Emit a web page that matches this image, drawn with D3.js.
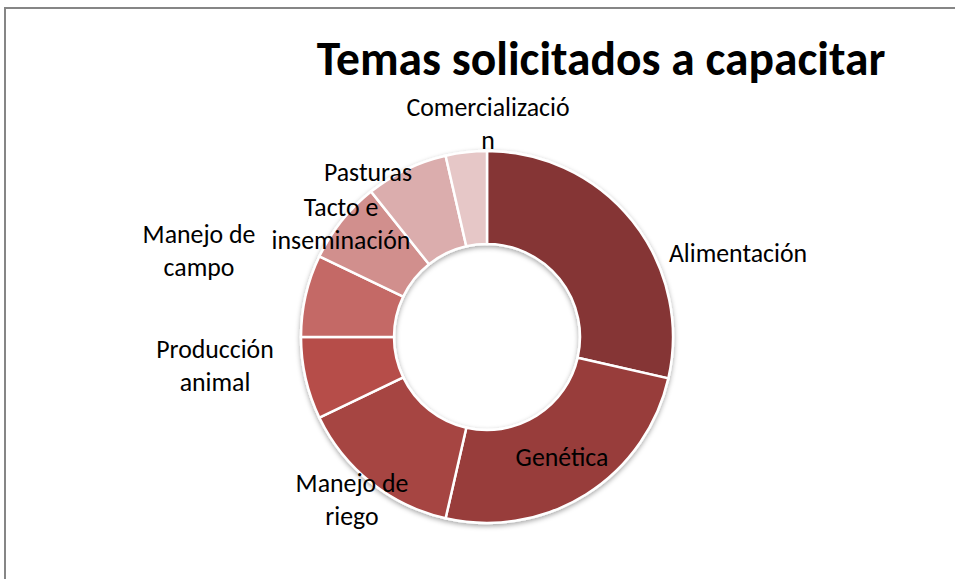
<!DOCTYPE html>
<html>
<head>
<meta charset="utf-8">
<script src="https://cdn.jsdelivr.net/npm/d3@7"></script>
<style>
  body { margin: 0; background: #fff; }
  svg text { font-family: Calibri, Carlito, Lato, "Open Sans", sans-serif; fill: #000; }
</style>
</head>
<body>
<div id="chart"></div>
<script>
// data
const temas = ["Alimentación", "Genética", "Manejo de riego", "Producción animal",
               "Manejo de campo", "Tacto e inseminación", "Pasturas", "Comercialización"];
const cantidades = [8, 7, 4, 2, 2, 2, 2, 1];
const colores = ["#853434", "#983c3b", "#a64543", "#b64d4a", "#c46966", "#d18f8d", "#dbadad", "#e6c7c7"];

// label lines as excel wrapped them
const etiquetas = [["Alimentación"], ["Genética"], ["Manejo de", "riego"], ["Producción", "animal"],
                   ["Manejo de", "campo"], ["Tacto e", "inseminación"], ["Pasturas"], ["Comercializació", "n"]];
// label offsets from the donut centre
const labelPos = [[251, -84], [75, 120], [-135, 162], [-272, 28], [-288, -87], [-146, -114], [-119, -165], [1, -214]];

const width = 955, height = 579;
const cx = 487, cy = 337, rOuter = 186, rInner = 93;

const svg = d3.select("#chart").append("svg")
    .attr("width", width)
    .attr("height", height);

// chart area border
svg.append("rect")
    .attr("x", 5).attr("y", 8)
    .attr("width", 980).attr("height", 620)
    .attr("fill", "#fff")
    .attr("stroke", "#868686")
    .attr("stroke-width", 2);

const defs = svg.append("defs");
const f = defs.append("filter").attr("id", "sombra")
    .attr("x", "-10%").attr("y", "-10%").attr("width", "120%").attr("height", "120%");
f.append("feDropShadow")
    .attr("dx", 0).attr("dy", 2).attr("stdDeviation", 2.5)
    .attr("flood-color", "#000").attr("flood-opacity", 0.35);

svg.append("text")
    .attr("x", 601).attr("y", 75)
    .attr("text-anchor", "middle")
    .attr("font-size", 47.5)
    .attr("font-weight", "bold")
    .text("Temas solicitados a capacitar");

const datos = temas.map((t, i) => ({tema: t, valor: cantidades[i], i: i}));

const pie = d3.pie().value(d => d.valor).sort(null);
const arc = d3.arc().innerRadius(rInner).outerRadius(rOuter);

const g = svg.append("g")
    .attr("transform", "translate(" + cx + "," + cy + ")");

g.append("g")
    .attr("filter", "url(#sombra)")
    .selectAll("path")
    .data(pie(datos))
    .enter()
    .append("path")
    .attr("d", arc)
    .attr("fill", d => colores[d.data.i])
    .attr("stroke", "#fff")
    .attr("stroke-width", 2.5);

const lineH = 33;
const labels = g.selectAll(".lbl")
    .data(datos)
    .enter()
    .append("text")
    .attr("class", "lbl")
    .attr("text-anchor", "middle")
    .attr("font-size", 25.8)
    .attr("transform", d => "translate(" + labelPos[d.i][0] + "," + labelPos[d.i][1] + ")");

labels.each(function(d) {
    const lines = etiquetas[d.i];
    const t = d3.select(this);
    lines.forEach((l, k) => {
        t.append("tspan")
            .attr("x", 0)
            .attr("y", (k - (lines.length - 1) / 2) * lineH)
            .attr("dy", "0.35em")
            .text(l);
    });
});
</script>
</body>
</html>
